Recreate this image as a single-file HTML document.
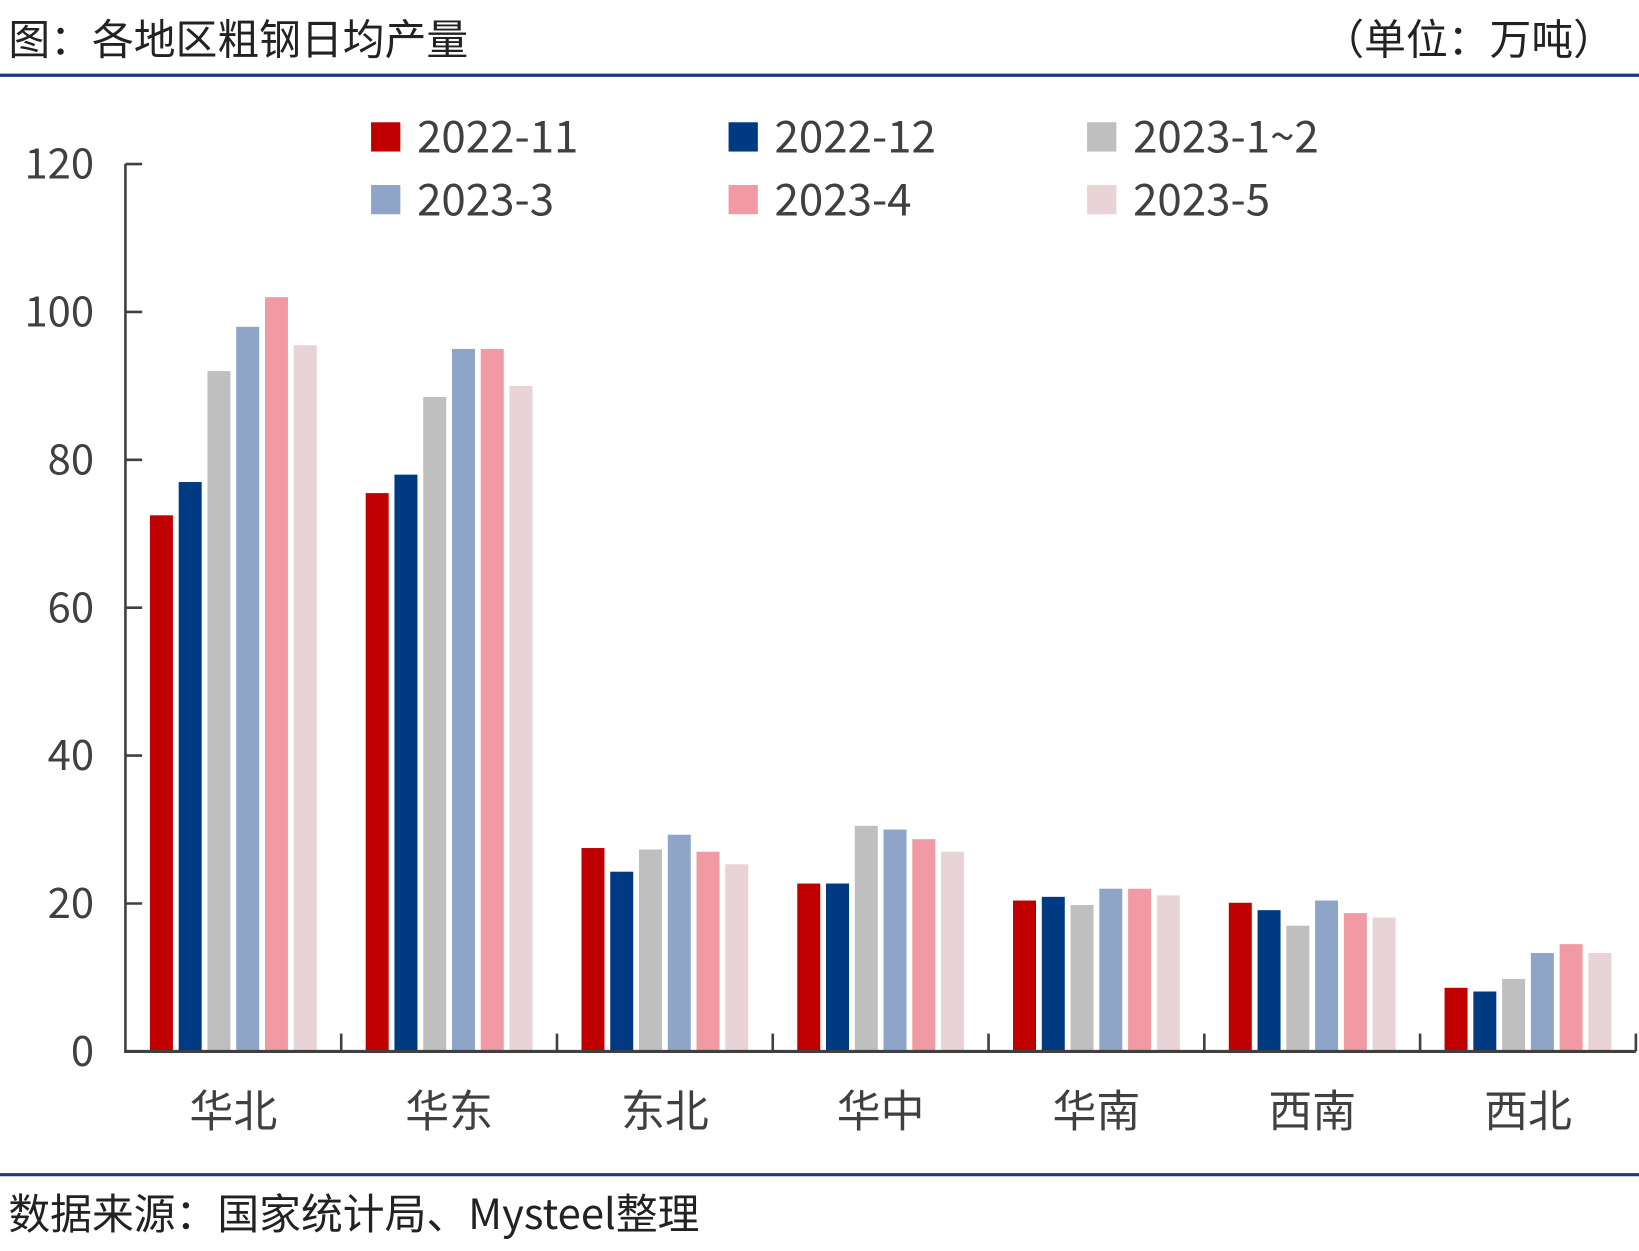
<!DOCTYPE html>
<html><head><meta charset="utf-8"><style>
html,body{margin:0;padding:0;background:#fff}
svg{display:block}
text{font-family:"Noto Sans CJK SC","Liberation Sans",sans-serif}
</style></head><body>
<svg id="chart" width="1639" height="1251" viewBox="0 0 1568 1197" preserveAspectRatio="none" xmlns="http://www.w3.org/2000/svg">
<text x="8" y="52" font-size="40" fill="#222">图：各地区粗钢日均产量</text>
<text x="1545" y="52" font-size="40" fill="#222" text-anchor="end">（单位：万吨）</text>
<line x1="0" y1="72" x2="1568" y2="72" stroke="#1F3A7A" stroke-width="3"/>
<line x1="0" y1="1124" x2="1568" y2="1124" stroke="#1F3A7A" stroke-width="3"/>
<text x="8" y="1176" font-size="40" fill="#222">数据来源：国家统计局、Mysteel整理</text>
<g id="legend"></g>
<g id="bars"></g>
<g id="axes"></g>
</svg>
<script>
const categories=["华北","华东","东北","华中","华南","西南","西北"];
const seriesNames=["2022-11","2022-12","2023-1~2","2023-3","2023-4","2023-5"];
const s1=[72.5,75.5,27.5,22.7,20.4,20.1,8.6];
const s2=[77,78,24.3,22.7,20.9,19.1,8.1];
const s3=[92,88.5,27.3,30.5,19.8,17,9.8];
const s4=[98,95,29.3,30,22,20.4,13.3];
const s5=[102,95,27,28.7,22,18.7,14.5];
const s6=[95.5,90,25.3,27,21.1,18.1,13.3];
const yTicks=[0,20,40,60,80,100,120];
const series=[s1,s2,s3,s4,s5,s6];
const colors=["#C00000","#003A82","#BFBFBF","#8EA5C8","#F29AA4","#E8D3D6"];
const NS="http://www.w3.org/2000/svg";
const x0=120,x1=1565,y0=1006,yTop=157,yMax=120;
const y=v=>y0-(v/yMax)*(y0-yTop);
const gw=(x1-x0)/categories.length;
function mk(tag,attrs,parent){const e=document.createElementNS(NS,tag);for(const k in attrs)e.setAttribute(k,attrs[k]);parent.appendChild(e);return e;}
const bars=document.getElementById('bars'),axes=document.getElementById('axes'),legend=document.getElementById('legend');
const pitch=gw*0.1333,bw=22,off=(gw-pitch*6)/2;
series.forEach((s,si)=>{s.forEach((v,ci)=>{
 const r=mk('rect',{x:x0+ci*gw+off+si*pitch+(pitch-bw)/2,y:y(v),width:bw,height:y0-y(v),fill:colors[si]},bars);
 
 
});});
yTicks.forEach(t=>{
 const l=mk('line',{x1:x0,x2:x0+16,y1:y(t),y2:y(t),stroke:'#404040','stroke-width':2.5},axes);
 
 
 const tx=mk('text',{x:90,y:y(t)+14,'font-size':40,fill:'#404040','text-anchor':'end'},axes);
 tx.textContent=t;
 
 
});
categories.forEach((c,i)=>{
 const tx=mk('text',{x:x0+(i+0.5)*gw,y:1078,'font-size':42,fill:'#404040','text-anchor':'middle'},axes);
 tx.textContent=c;
 
 
 const l=mk('line',{x1:x0+(i+1)*gw,x2:x0+(i+1)*gw,y1:y0,y2:y0-17,stroke:'#404040','stroke-width':2.5},axes);
 
 
});
const ya=mk('line',{x1:x0,x2:x0,y1:yTop,y2:y0+1.5,stroke:'#404040','stroke-width':2.5},axes);


const xa=mk('line',{x1:x0-1,x2:x1,y1:y0,y2:y0,stroke:'#404040','stroke-width':3},axes);


const lx=[355,697,1040],ly=[131,191];
seriesNames.forEach((n,i)=>{
 const cx=lx[i%3],cy=ly[Math.floor(i/3)];
 const r=mk('rect',{x:cx,y:cy-14,width:28,height:28,fill:colors[i]},legend);
 
 
 const t=mk('text',{x:cx+44,y:cy+15,'font-size':42,fill:'#404040'},legend);
 t.textContent=n;
 
 
});
</script>
</body></html>
